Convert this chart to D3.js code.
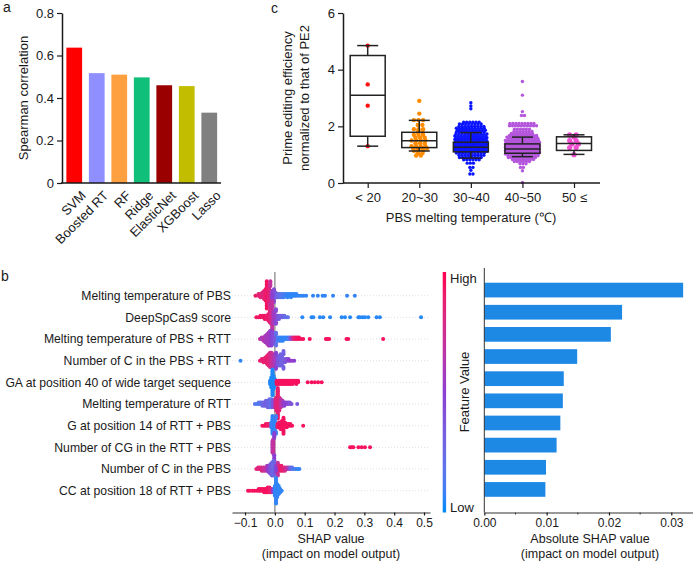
<!DOCTYPE html>
<html><head><meta charset="utf-8">
<script src="https://cdn.jsdelivr.net/npm/d3@7"></script>
<style>
body{margin:0;background:#fff}
svg{display:block}
text{font-family:Arial,"Liberation Sans",sans-serif;fill:#1a1a1a}
</style>
</head><body>
<svg id="chart" width="696" height="563"></svg>
<script>
// ---------------- Panel a data ----------------
const modelNames = ["SVM","Boosted RT","RF","Ridge","ElasticNet","XGBoost","Lasso"];
const spearman = [0.637,0.517,0.51,0.497,0.46,0.456,0.331];
const modelColors = ["#ff0000","#8f8fff","#ffa040","#10bf7a","#9b0000","#c3bd00","#808080"];
const spearmanTicks = [0,0.2,0.4,0.6,0.8];

// ---------------- Panel c data ----------------
const pbsCats = ["< 20","20~30","30~40","40~50","50 ≤"];
const pbsColors = ["#ff1010","#ff8c00","#0a14ff","#b455dc","#f24fd2"];
const boxLow  = [1.3, 1.13, 0.88, 0.93, 1.01];
const boxQ1   = [1.65, 1.25, 1.1, 1.05, 1.15];
const boxMed  = [3.1, 1.49, 1.26, 1.2, 1.39];
const boxQ3   = [4.5, 1.79, 1.44, 1.38, 1.63];
const boxHigh = [4.85, 2.21, 1.78, 1.62, 1.7];
// [value, number of guides at that value]
const ptsLt20 = [[4.85,1],[3.48,1],[2.73,1],[1.3,1]];
const pts20to30 = [[2.9,1],[2.45,1],[2.22,3],[2.05,2],[1.9,3],[1.8,2],[1.7,3],[1.6,3],[1.5,4],[1.4,3],[1.3,4],[1.22,4],[1.14,3],[1.05,2],[0.97,2]];
const pts30to40 = [[2.83,1],[2.72,1],[2.62,1],[2.15,6],[2.08,8],[2.0,9],[1.93,10],[1.86,10],[1.8,10],[1.73,11],[1.66,11],[1.6,11],[1.54,11],[1.48,11],[1.42,11],[1.36,11],[1.3,11],[1.24,11],[1.18,11],[1.12,11],[1.06,10],[0.98,9],[0.9,8],[0.82,6],[0.7,3],[0.55,2],[0.45,1],[0.32,2]];
const pts40to50 = [[3.58,1],[3.1,1],[2.52,1],[2.38,2],[2.1,9],[2.02,10],[1.9,6],[1.82,7],[1.75,8],[1.68,10],[1.62,11],[1.56,11],[1.5,12],[1.44,12],[1.38,12],[1.32,12],[1.26,12],[1.2,12],[1.14,12],[1.08,12],[1.02,12],[0.96,11],[0.9,10],[0.83,8],[0.76,6],[0.68,3],[0.55,2],[0.43,1],[0.02,1]];
const pts50up = [[1.7,2],[1.62,1],[1.5,2],[1.38,2],[1.25,2],[1.0,1]];
const pbsTicks = [0,2,4,6];

// ---------------- Panel b data ----------------
const featureNames = [
 "Melting temperature of PBS","DeepSpCas9 score","Melting temperature of PBS + RTT",
 "Number of C in the PBS + RTT","GA at position 40 of wide target sequence",
 "Melting temperature of RTT","G at position 14 of RTT + PBS","Number of CG in the RTT + PBS",
 "Number of C in the PBS","CC at position 18 of RTT + PBS"];
const absShap = [0.0319,0.0221,0.0203,0.0149,0.01275,0.0126,0.0122,0.0116,0.0099,0.0098];
const shapTicks = [-0.1,0,0.1,0.2,0.3,0.4,0.5];
const absTicks = [0,0.01,0.02,0.03];
// [SHAP value, feature value (0 low .. 1 high), number of samples]
const shapMeltPBS = [[-0.065,0.9,1],[-0.055,0.85,2],[-0.048,0.9,3],[-0.042,0.8,4],[-0.036,0.85,6],[-0.031,0.9,8],[-0.027,0.95,10],[-0.023,0.9,11],[-0.019,0.85,10],[-0.015,0.7,8],[-0.011,0.6,6],[-0.007,0.5,5],[-0.003,0.45,4],[0.002,0.4,4],[0.007,0.3,3],[0.012,0.25,3],[0.018,0.2,3],[0.024,0.15,3],[0.03,0.1,3],[0.036,0.1,2],[0.042,0.05,3],[0.048,0.05,2],[0.054,0.05,3],[0.06,0.05,2],[0.066,0.05,2],[0.072,0.05,2],[0.08,0.05,1],[0.088,0.05,1],[0.096,0.05,1],[0.105,0.05,1],[0.128,0.05,1],[0.144,0.05,1],[0.16,0.05,1],[0.168,0.05,1],[0.195,0.05,1],[0.242,0.05,1],[0.268,0.05,1]];
const shapDeepSpCas9 = [[-0.062,0.95,1],[-0.055,0.9,1],[-0.048,0.95,2],[-0.04,0.9,2],[-0.034,0.95,3],[-0.028,0.9,3],[-0.022,0.9,5],[-0.017,0.85,8],[-0.013,0.8,10],[-0.009,0.7,10],[-0.005,0.6,9],[-0.001,0.55,6],[0.004,0.45,4],[0.009,0.4,3],[0.014,0.35,3],[0.02,0.3,2],[0.026,0.3,2],[0.032,0.25,2],[0.038,0.2,1],[0.044,0.2,1],[0.092,0.03,1],[0.123,0.03,1],[0.129,0.03,1],[0.151,0.03,1],[0.162,0.03,1],[0.185,0.03,1],[0.224,0.03,1],[0.235,0.03,1],[0.252,0.03,1],[0.28,0.03,1],[0.285,0.03,1],[0.294,0.03,1],[0.302,0.03,1],[0.313,0.03,1],[0.341,0.03,1],[0.352,0.03,1],[0.49,0.03,1]];
const shapMeltPBSRTT = [[-0.05,0.7,1],[-0.044,0.6,2],[-0.038,0.65,3],[-0.032,0.6,5],[-0.026,0.55,7],[-0.021,0.6,9],[-0.016,0.55,10],[-0.011,0.5,10],[-0.006,0.45,8],[-0.001,0.4,5],[0.004,0.2,4],[0.009,0.1,3],[0.015,0.1,3],[0.021,0.05,3],[0.027,0.05,3],[0.033,0.05,2],[0.039,0.05,2],[0.045,0.1,2],[0.051,0.3,2],[0.057,0.6,2],[0.063,0.85,2],[0.069,0.9,2],[0.075,0.95,2],[0.081,0.95,2],[0.088,0.95,1],[0.095,0.95,1],[0.117,0.95,1],[0.171,0.95,1],[0.176,0.95,1],[0.182,0.95,1],[0.24,0.95,1],[0.246,0.95,1],[0.363,0.95,1]];
const shapNumCPBSRTT = [[-0.115,0.05,1],[-0.05,0.9,1],[-0.044,0.85,2],[-0.038,0.9,3],[-0.032,0.85,4],[-0.026,0.9,6],[-0.021,0.85,8],[-0.016,0.8,10],[-0.011,0.75,10],[-0.006,0.7,9],[-0.001,0.6,6],[0.004,0.5,5],[0.009,0.4,6],[0.014,0.35,7],[0.019,0.3,8],[0.024,0.3,7],[0.029,0.3,5],[0.034,0.35,3],[0.04,0.4,2],[0.046,0.5,2],[0.052,0.5,1],[0.058,0.55,1],[0.065,0.5,1]];
const shapGA40 = [[-0.016,0.02,3],[-0.012,0.02,7],[-0.008,0.02,10],[-0.004,0.02,9],[0.0,0.02,5],[0.006,0.95,3],[0.012,0.95,3],[0.018,0.95,3],[0.024,0.95,3],[0.03,0.95,3],[0.036,0.95,3],[0.042,0.95,3],[0.048,0.95,3],[0.054,0.95,3],[0.06,0.95,3],[0.066,0.95,2],[0.072,0.95,3],[0.078,0.95,2],[0.11,0.95,1],[0.123,0.95,1],[0.134,0.95,1],[0.145,0.95,1],[0.157,0.95,1]];
const shapMeltRTT = [[-0.067,0.2,1],[-0.06,0.1,1],[-0.054,0.15,2],[-0.048,0.2,2],[-0.042,0.25,3],[-0.036,0.3,3],[-0.03,0.3,4],[-0.024,0.3,5],[-0.018,0.25,6],[-0.012,0.2,6],[-0.006,0.4,5],[0.0,0.6,6],[0.005,0.85,9],[0.01,0.9,11],[0.015,0.85,9],[0.02,0.7,6],[0.026,0.6,4],[0.032,0.5,3],[0.038,0.5,2],[0.044,0.45,2],[0.05,0.4,2],[0.056,0.4,1],[0.075,0.35,1]];
const shapG14 = [[-0.042,0.95,1],[-0.036,0.95,1],[-0.03,0.95,2],[-0.024,0.9,2],[-0.018,0.9,2],[-0.012,0.1,4],[-0.008,0.05,8],[-0.004,0.05,10],[0.0,0.05,8],[0.004,0.1,4],[0.009,0.9,3],[0.014,0.95,4],[0.019,0.95,5],[0.024,0.95,6],[0.029,0.95,5],[0.034,0.95,4],[0.04,0.95,3],[0.046,0.95,2],[0.052,0.95,2],[0.058,0.95,1],[0.095,0.95,1]];
const shapNumCG = [[-0.008,0.6,8],[-0.005,0.7,10],[-0.002,0.5,8],[0.252,0.95,1],[0.258,0.95,1],[0.263,0.95,1],[0.28,0.95,1],[0.291,0.95,1],[0.302,0.95,1],[0.319,0.95,1]];
const shapNumCPBS = [[-0.062,0.85,1],[-0.056,0.8,2],[-0.05,0.85,2],[-0.044,0.8,3],[-0.038,0.75,3],[-0.032,0.7,3],[-0.026,0.6,4],[-0.02,0.5,5],[-0.015,0.4,7],[-0.01,0.3,9],[-0.005,0.25,10],[0.0,0.3,8],[0.005,0.5,5],[0.01,0.7,4],[0.016,0.85,4],[0.022,0.9,4],[0.028,0.85,3],[0.034,0.8,3],[0.04,0.7,2],[0.046,0.6,2],[0.052,0.3,2],[0.058,0.2,2],[0.064,0.1,1],[0.07,0.1,1],[0.076,0.05,1],[0.082,0.05,1]];
const shapCC18 = [[-0.09,0.95,1],[-0.084,0.95,1],[-0.075,0.95,1],[-0.068,0.95,1],[-0.06,0.95,1],[-0.054,0.95,2],[-0.048,0.95,2],[-0.042,0.95,2],[-0.036,0.95,3],[-0.03,0.95,3],[-0.024,0.95,4],[-0.018,0.9,4],[-0.012,0.85,3],[-0.006,0.5,3],[0.0,0.05,7],[0.004,0.05,10],[0.008,0.05,9],[0.013,0.05,6],[0.018,0.05,3],[0.023,0.05,1]];
const shapRows = [shapMeltPBS,shapDeepSpCas9,shapMeltPBSRTT,shapNumCPBSRTT,shapGA40,shapMeltRTT,shapG14,shapNumCG,shapNumCPBS,shapCC18];

// =====================================================
const svg = d3.select("#chart");
const ink = "#1a1a1a";
function styleAxis(g, fs){
  g.selectAll("path.domain").attr("stroke", ink).attr("stroke-width",1.5);
  g.selectAll(".tick line").attr("stroke", ink).attr("stroke-width",1.2);
  g.selectAll(".tick text").attr("fill", ink).style("font-size", fs+"px").style("font-family","Arial,'Liberation Sans',sans-serif");
}
function label(t,x,y,size,anchor){
  return svg.append("text").attr("x",x).attr("y",y).attr("text-anchor",anchor||"start").style("font-size",size+"px").text(t);
}

// ---------------- Panel a ----------------
label("a",3,12,14);
const xa = d3.scaleBand().domain(modelNames).range([63,220.5]).paddingInner(0.3).paddingOuter(0.15);
const ya = d3.scaleLinear().domain([0,0.8]).range([183,13]);
svg.append("g").selectAll("rect").data(modelNames).join("rect")
  .attr("x", d=>xa(d)).attr("width", xa.bandwidth())
  .attr("y", (d,i)=>ya(spearman[i])).attr("height",(d,i)=>ya(0)-ya(spearman[i]))
  .attr("fill",(d,i)=>modelColors[i]);
const gya = svg.append("g").attr("transform","translate(62,0)")
  .call(d3.axisLeft(ya).tickValues(spearmanTicks).tickFormat(d=>d===0?"0":d.toFixed(1)).tickSize(5).tickSizeOuter(0));
styleAxis(gya,13);
const gxa = svg.append("g").attr("transform","translate(0,183)")
  .call(d3.axisBottom(xa).tickSize(0).tickSizeOuter(0));
gxa.select("path.domain").attr("d","M61,0H221");
styleAxis(gxa,13);
gxa.selectAll(".tick text").attr("text-anchor","end").attr("transform","translate(6,7) rotate(-45)").attr("dy","0.7em").attr("y",0);
svg.append("text").attr("transform","translate(28,98) rotate(-90)").attr("text-anchor","middle").style("font-size","13px").text("Spearman correlation");

// ---------------- Panel c ----------------
label("c",271,13,14);
const xc = d3.scalePoint().domain(pbsCats).range([367.7,574]);
const yc = d3.scaleLinear().domain([0,6]).range([183,13]);
const groups = [ptsLt20,pts20to30,pts30to40,pts40to50,pts50up];
const spacing = [5,4.6,3.1,3.0,6.5];
const rads = [2.2,2.2,1.7,1.7,2.6];
groups.forEach((g,gi)=>{
  const cx = xc(pbsCats[gi]);
  const pts = [];
  g.forEach(([v,n],ri)=>{
    for(let i=0;i<n;i++){
      const shift = (n>1 && ri%2) ? spacing[gi]*0.35 : 0;
      pts.push({v, dx:(i-(n-1)/2)*spacing[gi] + (n>1? shift - spacing[gi]*0.17:0)});
    }
  });
  svg.append("g").selectAll("circle").data(pts).join("circle")
    .attr("cx",d=>cx+d.dx).attr("cy",d=>yc(d.v)).attr("r",rads[gi])
    .attr("fill",pbsColors[gi]);
});
// boxes
const bw = 35, cap = 21;
const bx = svg.append("g").attr("stroke","#222").attr("stroke-width",1.5).attr("fill","none");
pbsCats.forEach((c,i)=>{
  const cx = xc(c);
  bx.append("rect").attr("x",cx-bw/2).attr("width",bw).attr("y",yc(boxQ3[i])).attr("height",yc(boxQ1[i])-yc(boxQ3[i]));
  bx.append("line").attr("x1",cx-bw/2).attr("x2",cx+bw/2).attr("y1",yc(boxMed[i])).attr("y2",yc(boxMed[i]));
  bx.append("line").attr("x1",cx).attr("x2",cx).attr("y1",yc(boxQ3[i])).attr("y2",yc(boxHigh[i]));
  bx.append("line").attr("x1",cx).attr("x2",cx).attr("y1",yc(boxQ1[i])).attr("y2",yc(boxLow[i]));
  bx.append("line").attr("x1",cx-cap/2).attr("x2",cx+cap/2).attr("y1",yc(boxHigh[i])).attr("y2",yc(boxHigh[i]));
  bx.append("line").attr("x1",cx-cap/2).attr("x2",cx+cap/2).attr("y1",yc(boxLow[i])).attr("y2",yc(boxLow[i]));
});
const gyc = svg.append("g").attr("transform","translate(343,0)")
  .call(d3.axisLeft(yc).tickValues(pbsTicks).tickFormat(d3.format("d")).tickSize(5).tickSizeOuter(0));
styleAxis(gyc,13);
const gxc = svg.append("g").attr("transform","translate(0,183)")
  .call(d3.axisBottom(xc).tickSize(5).tickSizeOuter(0).tickPadding(5));
gxc.select("path.domain").attr("d","M343,0H600");
styleAxis(gxc,13);
svg.append("text").attr("transform","translate(292,98) rotate(-90)").attr("text-anchor","middle").style("font-size","13px").text("Prime editing efficiency");
svg.append("text").attr("transform","translate(309,98) rotate(-90)").attr("text-anchor","middle").style("font-size","13px").text("normalized to that of PE2");
label("PBS melting temperature (℃)",471,222,13,"middle");

// ---------------- Panel b (beeswarm) ----------------
label("b",1,281,14);
const xs = d3.scaleLinear().domain([-0.1436,0.52]).range([232,430]);
const ys = d3.scalePoint().domain(featureNames).range([295.7,490.7]);
const colorFV = d3.scaleLinear().domain([0,0.5,1]).range(["#008bfa","#8b3fd2","#ff0051"]).interpolate(d3.interpolateLab);
// grid lines
svg.append("g").selectAll("line").data(featureNames).join("line")
  .attr("x1",232).attr("x2",430).attr("y1",d=>ys(d)).attr("y2",d=>ys(d))
  .attr("stroke","#d8d8d8").attr("stroke-width",0.8).attr("stroke-dasharray","1,2");
svg.append("line").attr("x1",xs(0)).attr("x2",xs(0)).attr("y1",272).attr("y2",512)
  .attr("stroke","#a0a0a0").attr("stroke-width",1.6);
featureNames.forEach((f,ri)=>{
  const pts=[];
  shapRows[ri].forEach(([s,fv,n])=>{for(let i=0;i<n;i++) pts.push({s,fv});});
  const bins = new Map();
  pts.forEach(p=>{
    const b = Math.round(xs(p.s)/1.8);
    const k = bins.get(b)||0; bins.set(b,k+1);
    p.off = k===0?0:((k%2)?-1:1)*Math.ceil(k/2)*1.6;
  });
  svg.append("g").selectAll("circle").data(pts).join("circle")
    .attr("cx",d=>xs(d.s)).attr("cy",d=>ys(f)+d.off).attr("r",2)
    .attr("fill",d=>colorFV(d.fv));
});
svg.append("g").selectAll("text").data(featureNames).join("text")
  .attr("x",231).attr("y",d=>ys(d)+4.3).attr("text-anchor","end").style("font-size","12.2px").text(d=>d);
const gxs = svg.append("g").attr("transform","translate(0,512.5)")
  .call(d3.axisBottom(xs).tickValues(shapTicks).tickFormat(d3.format(".1f")).tickSize(3).tickSizeOuter(0));
styleAxis(gxs,12);
gxs.select("path.domain").attr("stroke-width",1).attr("stroke","#333");
label("SHAP value",331,543,12.5,"middle");
label("(impact on model output)",331,558,12.5,"middle");

// colour bar
const grad = svg.append("defs").append("linearGradient").attr("id","fvgrad").attr("x1",0).attr("x2",0).attr("y1",1).attr("y2",0);
d3.range(0,1.001,0.1).forEach(t=>grad.append("stop").attr("offset",t).attr("stop-color",colorFV(t)));
svg.append("rect").attr("x",442.7).attr("y",272).attr("width",3.4).attr("height",240.5).attr("fill","url(#fvgrad)");
label("High",450,283,13);
label("Low",450,512,13);
svg.append("text").attr("transform","translate(469,392) rotate(-90)").attr("text-anchor","middle").style("font-size","13px").text("Feature Value");

// ---------------- Panel b (bar) ----------------
const xb = d3.scaleLinear().domain([0,0.0334]).range([484.3,692.5]);
const yb = d3.scaleBand().domain(featureNames).range([279,500.5]).paddingInner(0.336).paddingOuter(0.168);
svg.append("g").selectAll("rect").data(featureNames).join("rect")
  .attr("x",xb(0)).attr("y",d=>yb(d)).attr("height",yb.bandwidth())
  .attr("width",(d,i)=>xb(absShap[i])-xb(0)).attr("fill","#1e88e5");
svg.append("line").attr("x1",484.3).attr("x2",484.3).attr("y1",268).attr("y2",512.5).attr("stroke","#333").attr("stroke-width",1);
const gxb = svg.append("g").attr("transform","translate(0,512.5)")
  .call(d3.axisBottom(xb).tickValues(absTicks).tickFormat(d3.format(".2f")).tickSize(3).tickSizeOuter(0));
styleAxis(gxb,12);
gxb.select("path.domain").attr("stroke-width",1).attr("stroke","#333");
svg.append("g").selectAll("line").data([0.005,0.015,0.025]).join("line")
  .attr("x1",d=>xb(d)).attr("x2",d=>xb(d)).attr("y1",512.5).attr("y2",514.5).attr("stroke","#333");
label("Absolute SHAP value",590,543,12.5,"middle");
label("(impact on model output)",590,558,12.5,"middle");
</script>
</body></html>
